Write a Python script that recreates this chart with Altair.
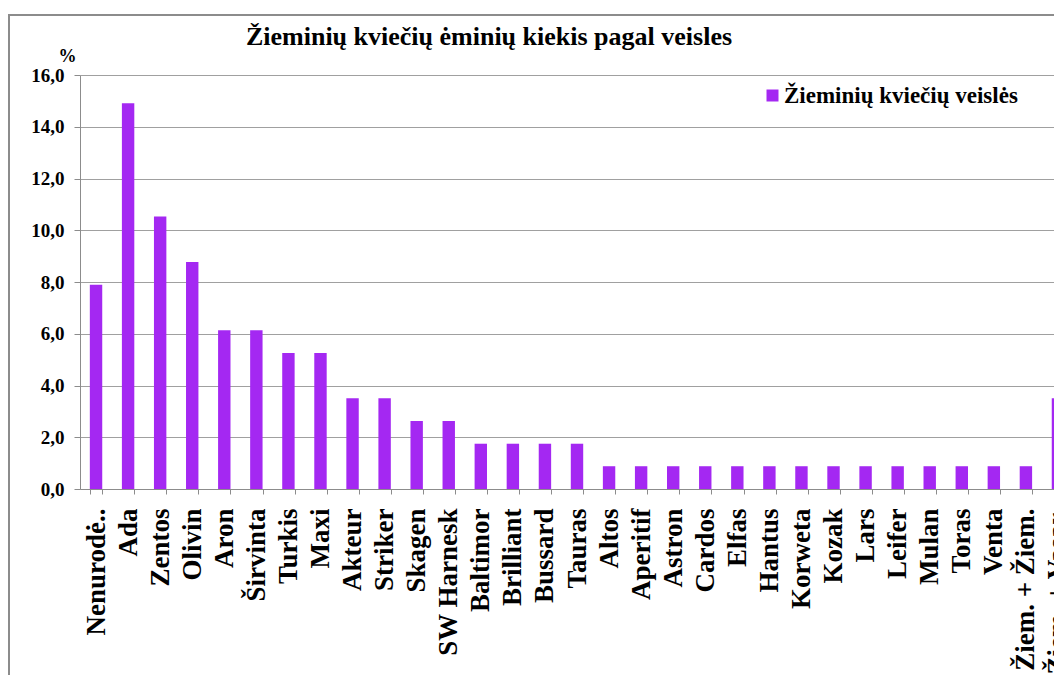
import altair as alt
import pandas as pd

categories = ["Nenurodė..", "Ada", "Zentos", "Olivin", "Aron", "Širvinta", "Turkis", "Maxi",
              "Akteur", "Striker", "Skagen", "SW Harnesk", "Baltimor", "Brilliant", "Bussard",
              "Tauras", "Altos", "Aperitif", "Astron", "Cardos", "Elfas", "Hantus", "Korweta",
              "Kozak", "Lars", "Leifer", "Mulan", "Toras", "Venta", "Žiem. + Žiem.",
              "Žiem. + Vasar."]
values = [7.89, 14.91, 10.53, 8.77, 6.14, 6.14, 5.26, 5.26,
          3.51, 3.51, 2.63, 2.63, 1.75, 1.75, 1.75,
          1.75, 0.88, 0.88, 0.88, 0.88, 0.88, 0.88, 0.88,
          0.88, 0.88, 0.88, 0.88, 0.88, 0.88, 0.88,
          3.51]
series_name = "Žieminių kviečių veislės"
y_ticks = [0, 2, 4, 6, 8, 10, 12, 14, 16]

FONT = "Liberation Serif"
PURPLE = "#a428f2"
GRAY = "#8c8c8c"

df = pd.DataFrame({"veisle": categories, "proc": values, "serija": [series_name] * len(categories)})

bars = alt.Chart(df).mark_bar().encode(
    x=alt.X("veisle:N", sort=categories,
            scale=alt.Scale(range=[0, 994], paddingInner=0.613, paddingOuter=0.3065),
            axis=alt.Axis(title=None, labelAngle=270, labelAlign="right", labelBaseline="middle",
                          labelFont=FONT, labelFontSize=27, labelFontWeight="bold",
                          labelColor="black", labelPadding=14, labelOverlap=False, labelLimit=300,
                          tickBand="extent", tickSize=5, tickColor=GRAY, domainColor=GRAY,
                          grid=False)),
    y=alt.Y("proc:Q", scale=alt.Scale(domain=[0, 16], nice=False),
            axis=alt.Axis(title="%", titleAngle=0, titleX=-13, titleY=-14, titleAlign="center",
                          titleBaseline="alphabetic", titleFont=FONT, titleFontSize=18,
                          titleFontWeight="bold", titleColor="black",
                          values=y_ticks,
                          labelExpr="replace(format(datum.value, '.1f'), '.', ',')",
                          labelFont=FONT, labelFontSize=19, labelFontWeight="bold",
                          labelColor="black", labelPadding=10, tickSize=6, tickColor=GRAY,
                          domainColor=GRAY, gridColor="#a0a0a0", grid=True)),
    color=alt.Color("serija:N", scale=alt.Scale(range=[PURPLE]),
                    legend=alt.Legend(title=None, orient="none", legendX=681, legendY=9,
                                      symbolType="square", symbolSize=144, symbolStrokeWidth=0,
                                      labelFont=FONT, labelFontSize=23, labelFontWeight="bold",
                                      labelColor="black", labelOffset=0, padding=0,
                                      labelLimit=400)),
)

frame_df = pd.DataFrame({"k": [0]})
frame = alt.Chart(frame_df).mark_rect(fillOpacity=0, stroke=GRAY, strokeWidth=2).encode(
    x=alt.value(-71), x2=alt.value(1100), y=alt.value(-60), y2=alt.value(700))
frame_top = alt.Chart(frame_df).mark_rule(color=GRAY, strokeWidth=2).encode(
    x=alt.value(-71), x2=alt.value(1100), y=alt.value(-60))

chart = alt.layer(frame, bars, frame_top).properties(
    width=974, height=414,
    autosize=alt.AutoSizeParams(type="none"),
    padding={"left": 72, "top": 67, "right": 0, "bottom": 186},
    title=alt.TitleParams("Žieminių kviečių ėminių kiekis pagal veisles", font=FONT, fontSize=26,
                          fontWeight="bold", color="black", anchor="middle", frame="group",
                          dx=-78, dy=57, baseline="alphabetic", offset=0),
).configure_view(strokeWidth=0)

chart.save("out.html", embed_options={"renderer": "svg", "actions": False})
